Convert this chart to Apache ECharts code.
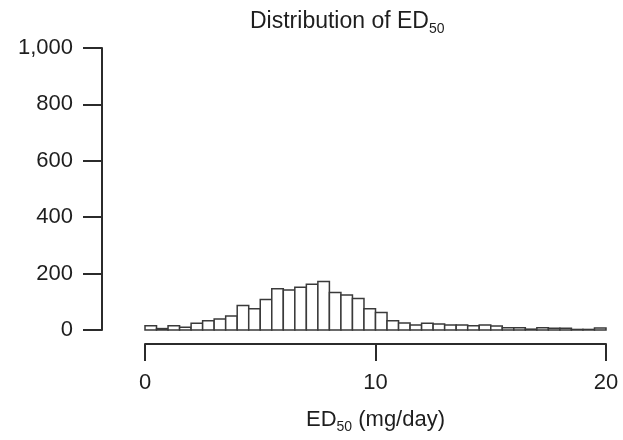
<!DOCTYPE html>
<html lang="en">
<head>
    <meta charset="UTF-8">
    <title>Distribution of ED50</title>
    <script src="https://cdn.jsdelivr.net/npm/echarts@6/dist/echarts.min.js"></script>
    <style>
        *{
            padding: 0;
            margin: 0;
        }
        html, body{
            width: 100%;
            height: 100%;
            background: #fff;
        }
        .echarts{
            width: 623px;
            height: 440px;
        }
    </style>
</head>
<body>
<div class="echarts"></div>
<script>
    // histogram of ED50, bins of 0.5 mg/day from 0 to 20
    let binStart = 0;
    let binWidth = 0.5;
    let counts = [15, 5, 15, 10, 24, 33, 39, 50, 87, 75,
                  108, 146, 142, 152, 162, 172, 133, 124, 112, 75,
                  62, 33, 25, 18, 24, 21, 18, 18, 15, 18,
                  14, 8, 8, 3, 8, 6, 6, 2, 2, 7];
    let xTicks = [0, 10, 20];
    let yTicks = [0, 200, 400, 600, 800, 1000];

    window.onload = function () {
        let main = document.querySelector('.echarts');
        let myCharts = echarts.init(main);
        let font = 'Liberation Sans, Arial, Helvetica, sans-serif';
        let ink = '#2b2b2b';
        let txt = '#1e1e1e';

        let bins = counts.map((c, i) => [binStart + i * binWidth, binStart + (i + 1) * binWidth, c]);

        let option = {
            backgroundColor: '#fff',
            animation: false,
            title: {
                text: '{a|Distribution of ED}{s|50}',
                left: 245,
                top: 3,
                textStyle: {
                    rich: {
                        a: {fontFamily: font, fontSize: 23, fontWeight: 'normal', color: txt},
                        s: {fontFamily: font, fontSize: 14, fontWeight: 'normal', color: txt, padding: [14, 0, 0, 0]}
                    }
                }
            },
            grid: {
                left: 145,
                right: 17,
                top: 48,
                bottom: 110
            },
            xAxis: {
                type: 'value',
                min: xTicks[0],
                max: xTicks[xTicks.length - 1],
                interval: 10,
                offset: 14,
                splitLine: {show: false},
                axisLine: {onZero: false, lineStyle: {color: ink, width: 2}},
                axisTick: {show: true, inside: false, length: 17, lineStyle: {color: ink, width: 2}},
                axisLabel: {
                    margin: 28,
                    fontFamily: font,
                    fontSize: 22,
                    color: txt
                },
                name: '{a|ED}{s|50}{a| (mg/day)}',
                nameLocation: 'middle',
                nameGap: 62,
                nameTextStyle: {
                    rich: {
                        a: {fontFamily: font, fontSize: 22, color: txt},
                        s: {fontFamily: font, fontSize: 14, color: txt, padding: [14, 0, 0, 0]}
                    }
                }
            },
            yAxis: {
                type: 'value',
                min: yTicks[0],
                max: yTicks[yTicks.length - 1],
                interval: 200,
                offset: 43,
                splitLine: {show: false},
                axisLine: {show: true, onZero: false, lineStyle: {color: ink, width: 2}},
                axisTick: {show: true, inside: false, length: 19, lineStyle: {color: ink, width: 2}},
                axisLabel: {
                    margin: 29,
                    fontFamily: font,
                    fontSize: 22,
                    color: txt,
                    formatter: v => v.toLocaleString('en-US')
                }
            },
            series: [{
                type: 'custom',
                data: bins,
                encode: {x: [0, 1], y: 2},
                renderItem: function (params, api) {
                    let p0 = api.coord([api.value(0), api.value(2)]);
                    let p1 = api.coord([api.value(1), 0]);
                    return {
                        type: 'rect',
                        shape: {x: p0[0], y: p0[1], width: p1[0] - p0[0], height: p1[1] - p0[1]},
                        style: {fill: '#fff', stroke: '#3a3a3a', lineWidth: 1.5}
                    };
                }
            }]
        };
        myCharts.setOption(option);
    };
</script>
</body>
</html>
